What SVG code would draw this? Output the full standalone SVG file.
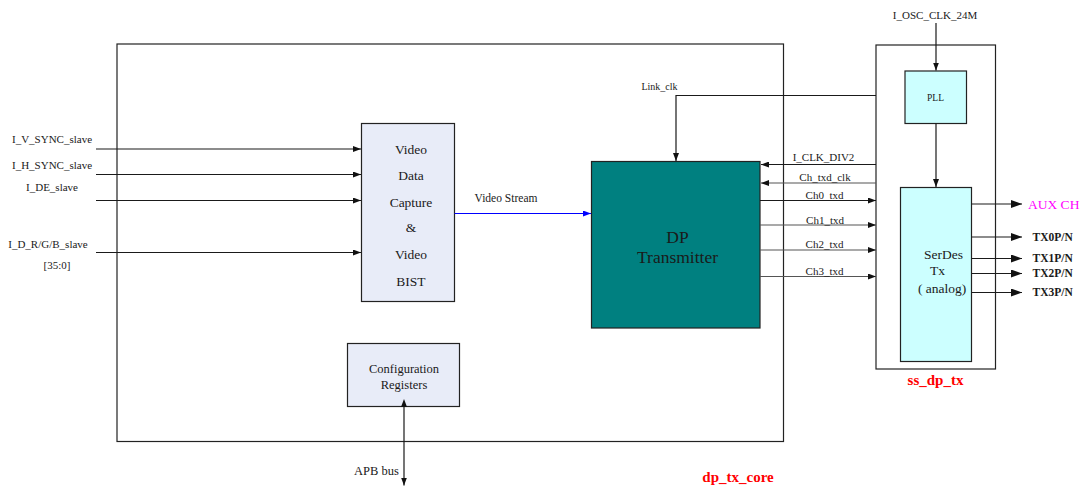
<svg xmlns="http://www.w3.org/2000/svg" width="1081" height="486" viewBox="0 0 1081 486">
<style>
text{font-family:"Liberation Serif","Times New Roman",serif;fill:#1a1a1a}
.s{font-size:11px}
.m{font-size:13.5px}
.c{text-anchor:middle}
.b{font-weight:bold}
.red{fill:#ff0000;font-weight:bold;font-size:15px}
.ln{stroke:#1a1a1a;stroke-width:1.2;fill:none}
.g{stroke:#555;stroke-width:1.2;fill:none}
.box{stroke:#222;stroke-width:1.2}
</style>
<defs>
<marker id="a" viewBox="0 0 8 6" refX="8" refY="3" markerWidth="8" markerHeight="6" markerUnits="userSpaceOnUse" orient="auto"><path d="M0,0L8,3L0,6z" fill="#111"/></marker>
<marker id="as" viewBox="0 0 8 6" refX="0" refY="3" markerWidth="8" markerHeight="6" markerUnits="userSpaceOnUse" orient="auto-start-reverse"><path d="M0,0L8,3L0,6z" fill="#111"/></marker>
<marker id="ab" viewBox="0 0 11 8" refX="11" refY="4" markerWidth="11" markerHeight="8" markerUnits="userSpaceOnUse" orient="auto"><path d="M0,0L11,4L0,8z" fill="#111"/></marker>
<marker id="abl" viewBox="0 0 8 6" refX="8" refY="3" markerWidth="8" markerHeight="6" markerUnits="userSpaceOnUse" orient="auto"><path d="M0,0L8,3L0,6z" fill="#0000ff"/></marker>
</defs>

<g id="dp_tx_core">
<rect x="117" y="44" width="666.5" height="397.5" fill="none" class="box"/>
<text x="738" y="481.5" class="red c">dp_tx_core</text>
</g>

<g id="ss_dp_tx">
<rect x="876" y="45" width="119.5" height="324" fill="none" class="box" stroke="#444"/>
<text x="935.5" y="385" class="red c">ss_dp_tx</text>
</g>

<g id="video_capture">
<rect x="361.5" y="123.5" width="93" height="178" fill="#e8ecf8" class="box"/>
<text x="411" y="153.5" class="m c">Video</text>
<text x="411" y="179.5" class="m c">Data</text>
<text x="411" y="206.5" class="m c">Capture</text>
<text x="411" y="232" class="m c">&amp;</text>
<text x="411" y="259" class="m c">Video</text>
<text x="411" y="285.5" class="m c">BIST</text>
</g>

<g id="dp_transmitter">
<rect x="591.5" y="161.5" width="168.5" height="166.5" fill="#008080" class="box"/>
<text x="677.5" y="242.5" class="c" style="font-size:17.5px">DP</text>
<text x="677.5" y="263" class="c" style="font-size:17.5px">Transmitter</text>
</g>

<g id="config_registers">
<rect x="347.5" y="343.5" width="112" height="63" fill="#e8ecf8" class="box"/>
<text x="404" y="372.5" class="c" style="font-size:12.5px">Configuration</text>
<text x="404" y="388.5" class="c" style="font-size:12.5px">Registers</text>
</g>

<g id="pll">
<rect x="905" y="71" width="61.5" height="52.5" fill="#ccffff" class="box"/>
<text x="935.5" y="101" class="c" style="font-size:9.5px">PLL</text>
</g>

<g id="serdes">
<rect x="900.5" y="187.5" width="71" height="174" fill="#ccffff" class="box"/>
<text x="924" y="258.5" class="m">SerDes</text>
<text x="930" y="274.5" class="m">Tx</text>
<text x="918" y="292.5" class="m">( analog)</text>
</g>

<g id="connectors">
<line x1="96" y1="149" x2="361" y2="149" class="ln" marker-end="url(#a)"/>
<line x1="96" y1="174.5" x2="361" y2="174.5" class="ln" marker-end="url(#a)"/>
<line x1="96" y1="200.5" x2="361" y2="200.5" class="ln" marker-end="url(#a)"/>
<line x1="96" y1="252.5" x2="361" y2="252.5" class="ln" marker-end="url(#a)"/>
<text x="52" y="143" class="s c">I_V_SYNC_slave</text>
<text x="52" y="169" class="s c">I_H_SYNC_slave</text>
<text x="52" y="191" class="s c">I_DE_slave</text>
<text x="48" y="248" class="s c">I_D_R/G/B_slave</text>
<text x="57" y="269" class="s c">[35:0]</text>

<line x1="454.5" y1="213.5" x2="591" y2="213.5" stroke="#0000ff" stroke-width="1.2" marker-end="url(#abl)"/>
<text x="506" y="202" class="c" style="font-size:11.5px">Video Stream</text>

<polyline points="876,95.5 676,95.5 676,161" class="ln" marker-end="url(#a)"/>
<text x="659.5" y="90" class="c" style="font-size:10px">Link_clk</text>

<line x1="876" y1="164.5" x2="761" y2="164.5" class="ln" marker-end="url(#a)"/>
<text x="823.5" y="161" class="s c">I_CLK_DIV2</text>
<line x1="876" y1="183" x2="761" y2="183" class="g" marker-end="url(#a)"/>
<text x="825" y="181" class="s c">Ch_txd_clk</text>
<line x1="760" y1="200.5" x2="876" y2="200.5" class="ln" marker-end="url(#a)"/>
<text x="824.5" y="198.5" class="s c">Ch0_txd</text>
<line x1="760" y1="225" x2="876" y2="225" class="g" marker-end="url(#a)"/>
<text x="825" y="223.5" class="s c">Ch1_txd</text>
<line x1="760" y1="250" x2="876" y2="250" class="g" marker-end="url(#a)"/>
<text x="824.5" y="247.5" class="s c">Ch2_txd</text>
<line x1="760" y1="276.5" x2="876" y2="276.5" class="g" marker-end="url(#a)"/>
<text x="824.5" y="274.5" class="s c">Ch3_txd</text>

<line x1="936" y1="23" x2="936" y2="70.5" class="ln" marker-end="url(#a)"/>
<text x="935" y="18.5" class="s c">I_OSC_CLK_24M</text>
<line x1="936" y1="123.5" x2="936" y2="187" class="ln" marker-end="url(#a)"/>

<line x1="971.5" y1="204" x2="1022" y2="204" class="ln" marker-end="url(#ab)"/>
<text x="1028" y="208.5" style="font-size:13.5px;fill:#ff00ff">AUX CH</text>
<line x1="971.5" y1="237" x2="1022" y2="237" class="ln" marker-end="url(#ab)"/>
<text x="1032.5" y="241" class="b" style="font-size:11.5px">TX0P/N</text>
<line x1="971.5" y1="258.5" x2="1022" y2="258.5" class="ln" marker-end="url(#ab)"/>
<text x="1032.5" y="262" class="b" style="font-size:11.5px">TX1P/N</text>
<line x1="971.5" y1="273.5" x2="1022" y2="273.5" class="ln" marker-end="url(#ab)"/>
<text x="1032.5" y="277" class="b" style="font-size:11.5px">TX2P/N</text>
<line x1="971.5" y1="292.5" x2="1022" y2="292.5" class="ln" marker-end="url(#ab)"/>
<text x="1032.5" y="296" class="b" style="font-size:11.5px">TX3P/N</text>

<line x1="404" y1="407" x2="404" y2="485.5" class="ln" marker-start="url(#as)" marker-end="url(#a)"/>
<text x="376.5" y="475" class="c" style="font-size:12.5px">APB bus</text>
</g>
</svg>
